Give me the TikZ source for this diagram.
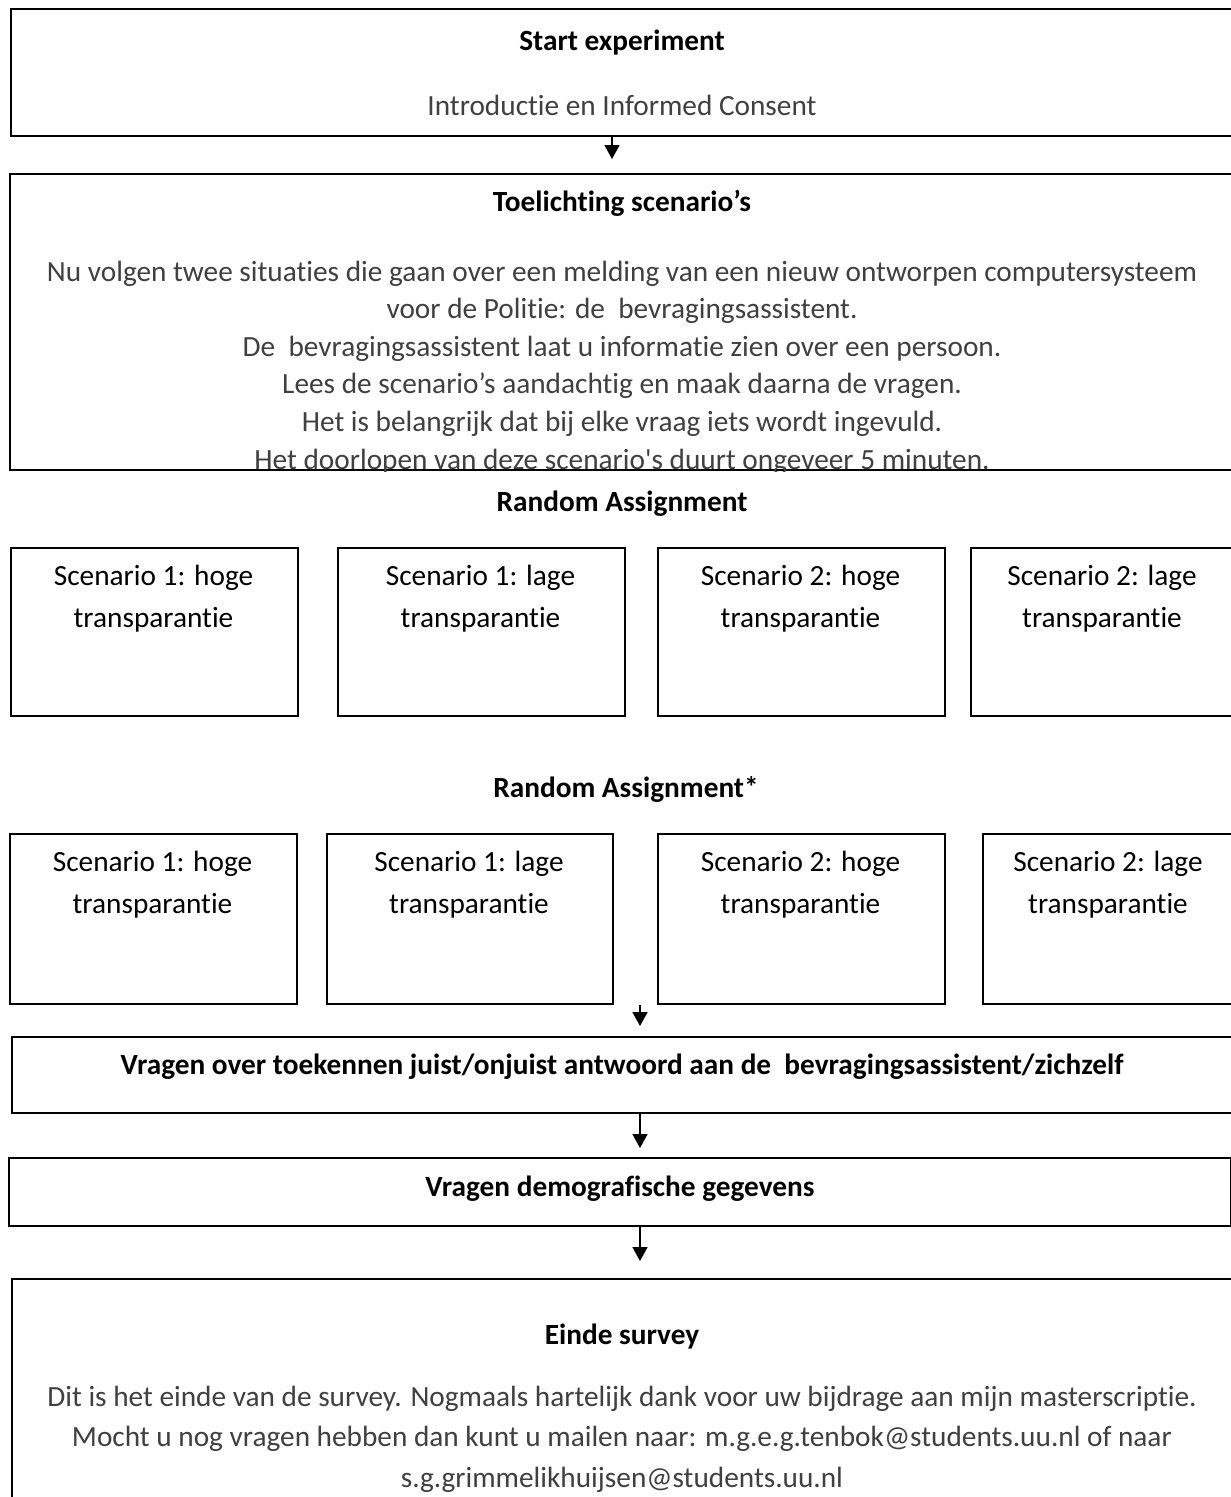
\documentclass[tikz,border=0pt]{standalone}
\usepackage{fontspec}
\setmainfont{Carlito}[Ligatures={TeXOff,NoCommon}]
\usetikzlibrary{arrows.meta}
\definecolor{bodygray}{HTML}{404040}
\begin{document}
\begin{tikzpicture}[x=1pt,y=-1pt,
  box/.style={draw=black, line width=2pt, rectangle, inner sep=0pt, anchor=north west},
  txt/.style={inner sep=0pt, anchor=base, font=\fontsize{29.3}{36}\selectfont},
  ttl/.style={txt, font=\fontsize{29.3}{36}\selectfont\bfseries, text=black},
  bodytxt/.style={txt, text=bodygray},
  sctxt/.style={txt, text=black},
  arr/.style={line width=1.6pt, -{Triangle[width=15pt,length=14pt]}}]
\clip (0,0) rectangle (1231,1497);
\useasboundingbox (0,0) rectangle (1231,1497);
\fill[white] (0,0) rectangle (1231,1497);

% Start box
\node[box, minimum width=1232pt, minimum height=127pt] (start) at (10,8) {};
\node[ttl] (startT) at (622,50) {Start experiment};
\node[bodytxt] (startB) at (622,115) {Introductie en Informed Consent};

% Toelichting box
\node[box, minimum width=1233pt, minimum height=296pt] (toel) at (9,173) {};
\node[ttl] (toelT) at (622,211) {Toelichting scenario’s};
\begin{scope}
\clip (toel.north west) rectangle (toel.south east);
\node[bodytxt] (l1) at (622,281) {Nu volgen twee situaties die gaan over een melding van een nieuw ontworpen computersysteem};
\node[bodytxt] (l2) at (622,318.6) {voor de Politie: de \ bevragingsassistent.};
\node[bodytxt] (l3) at (622,356.2) {De \ bevragingsassistent laat u informatie zien over een persoon.};
\node[bodytxt] (l4) at (622,393.8) {Lees de scenario’s aandachtig en maak daarna de vragen.};
\node[bodytxt] (l5) at (622,431.4) {Het is belangrijk dat bij elke vraag iets wordt ingevuld.};
\node[bodytxt] (l6) at (622,469) {Het doorlopen van deze scenario's duurt ongeveer 5 minuten.};
\end{scope}

% Random assignment 1
\node[ttl] (ra1) at (622,511) {Random Assignment};
\node[box, minimum width=287pt, minimum height=168pt] (s11) at (10,547) {};
\node[box, minimum width=287pt, minimum height=168pt] (s12) at (337,547) {};
\node[box, minimum width=287pt, minimum height=168pt] (s13) at (657,547) {};
\node[box, minimum width=272pt, minimum height=168pt] (s14) at (970,547) {};
\node[sctxt] (s11a) at (153.5,585) {Scenario 1: hoge};
\node[sctxt] (s11b) at (153.5,627) {transparantie};
\node[sctxt] (s12a) at (480.5,585) {Scenario 1: lage};
\node[sctxt] (s12b) at (480.5,627) {transparantie};
\node[sctxt] (s13a) at (800.5,585) {Scenario 2: hoge};
\node[sctxt] (s13b) at (800.5,627) {transparantie};
\node[sctxt] (s14a) at (1102,585) {Scenario 2: lage};
\node[sctxt] (s14b) at (1102,627) {transparantie};

% Random assignment 2
\node[ttl] (ra2) at (626,797) {Random Assignment*};
\node[box, minimum width=287pt, minimum height=170pt] (s21) at (9,833) {};
\node[box, minimum width=286pt, minimum height=170pt] (s22) at (326,833) {};
\node[box, minimum width=287pt, minimum height=170pt] (s23) at (657,833) {};
\node[box, minimum width=260pt, minimum height=170pt] (s24) at (982,833) {};
\node[sctxt] (s21a) at (152.5,871) {Scenario 1: hoge};
\node[sctxt] (s21b) at (152.5,913) {transparantie};
\node[sctxt] (s22a) at (469,871) {Scenario 1: lage};
\node[sctxt] (s22b) at (469,913) {transparantie};
\node[sctxt] (s23a) at (800.5,871) {Scenario 2: hoge};
\node[sctxt] (s23b) at (800.5,913) {transparantie};
\node[sctxt] (s24a) at (1108,871) {Scenario 2: lage};
\node[sctxt] (s24b) at (1108,913) {transparantie};

% Vragen over
\node[box, minimum width=1231pt, minimum height=76pt] (vr) at (11,1036) {};
\node[ttl] (vrT) at (622,1074) {Vragen over toekennen juist/onjuist antwoord aan de \ bevragingsassistent/zichzelf};

% Demografisch
\node[box, minimum width=1222pt, minimum height=68pt] (dem) at (8,1157) {};
\node[ttl] (demT) at (620,1196) {Vragen demografische gegevens};

% Einde
\node[box, minimum width=1231pt, minimum height=240pt] (end) at (11,1278) {};
\node[ttl] (endT) at (622,1344) {Einde survey};
\node[bodytxt] (e1) at (622,1406) {Dit is het einde van de survey. Nogmaals hartelijk dank voor uw bijdrage aan mijn masterscriptie.};
\node[bodytxt] (e2) at (622,1446) {Mocht u nog vragen hebben dan kunt u mailen naar: m.g.e.g.tenbok@students.uu.nl of naar};
\node[bodytxt] (e3) at (622,1487) {s.g.grimmelikhuijsen@students.uu.nl};

% Connectors
\coordinate (ax1) at (612,0);
\coordinate (ax2) at (640,0);
\draw[arr, shorten >=14pt] (ax1 |- start.south) -- (ax1 |- toel.north);
\draw[arr, shorten >=10pt] (ax2 |- s22.south) -- (ax2 |- vr.north);
\draw[arr, shorten >=9pt] (ax2 |- vr.south) -- (ax2 |- dem.north);
\draw[arr, shorten >=17pt] (ax2 |- dem.south) -- (ax2 |- end.north);
\end{tikzpicture}
\end{document}
